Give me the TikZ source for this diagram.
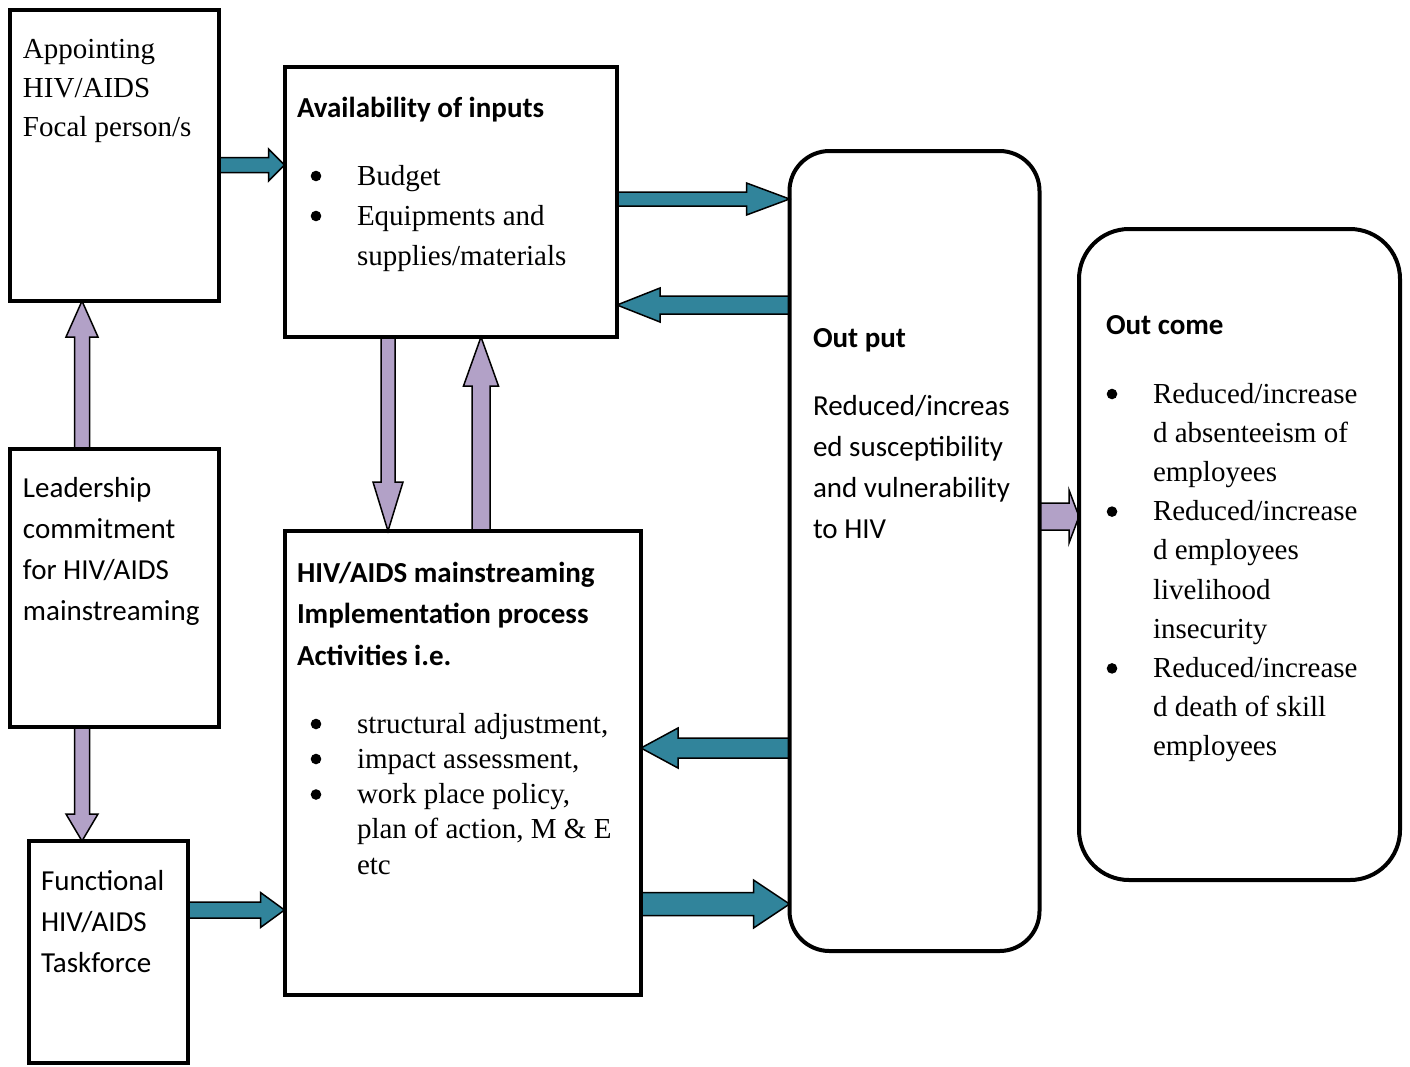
\documentclass[tikz,border=0pt]{standalone}
\usepackage{fontspec}
\setmainfont{Liberation Serif}
\setsansfont{Carlito}
\usetikzlibrary{calc,backgrounds}
\definecolor{tealA}{RGB}{49,132,155}
\definecolor{purpA}{RGB}{178,161,199}
\newcommand\blockarrow[6]{%
  \coordinate (hb) at ($(#3)!#6!(#2)$);
  \draw[#1] ($(#2)!#4!90:(#3)$) -- ($(hb)!#4!90:(#3)$) -- ($(hb)!#5!90:(#3)$) -- (#3)
    -- ($(hb)!#5!-90:(#3)$) -- ($(hb)!#4!-90:(#3)$) -- ($(#2)!#4!-90:(#3)$) -- cycle;}
\newcommand\tblock[3]{\begin{minipage}[t]{#1}\raggedright\fontsize{29}{#2}\selectfont #3\end{minipage}}
\newcommand\indA{\hspace*{60pt}}
\newcommand\indB{\hspace*{47pt}}
\tikzset{
  box/.style={draw=black, line width=4pt, rectangle, inner sep=0pt, outer sep=0pt},
  rbox/.style={box, rounded corners=40pt},
  txt/.style={anchor=base west, inner sep=0pt, outer sep=0pt},
  bulletdot/.style={fill=black},
  tealarrow/.style={fill=tealA, draw=black, line width=1.5pt, line join=miter},
  purparrow/.style={fill=purpA, draw=black, line width=1.5pt, line join=miter}
}
\begin{document}
\begin{tikzpicture}[x=1pt,y=-1pt]
\useasboundingbox (0,0) rectangle (1410,1066);
% boxes
\node[box, minimum width=209pt, minimum height=291pt] (A) at (114.5,155.5) {};
\node[box, minimum width=332.5pt, minimum height=270pt] (B) at (450.75,202) {};
\node[rbox, minimum width=250pt, minimum height=800pt] (C) at (914.5,551) {};
\node[box, rounded corners=50pt, minimum width=321pt, minimum height=651pt] (D) at (1239.5,554.5) {};
\node[box, minimum width=209pt, minimum height=278pt] (E) at (114.5,588) {};
\node[box, minimum width=356.5pt, minimum height=464pt] (F) at (462.75,763) {};
\node[box, minimum width=159pt, minimum height=222pt] (G) at (108.5,952) {};
% texts
\node[txt] (Atext) at (23,58) {\tblock{190pt}{39.3pt}{Appointing\\HIV/AIDS\\Focal person/s}};
\node[txt] (Bhead) at (297,117) {\tblock{310pt}{41pt}{\sffamily\bfseries Availability of inputs}};
\node[txt] (Bbody) at (297,185) {\tblock{315pt}{40pt}{\indA Budget\\\indA Equipments and\\\indA supplies/materials}};
\node[txt] (Chead) at (813,347) {\tblock{225pt}{41pt}{\sffamily\bfseries Out put}};
\node[txt] (Cbody) at (813,415) {\tblock{225pt}{41.3pt}{\sffamily Reduced/increas\\ed susceptibility\\and vulnerability\\to HIV}};
\node[txt] (Dhead) at (1106,334) {\tblock{290pt}{41pt}{\sffamily\bfseries Out come}};
\node[txt] (Dbody) at (1106,403) {\tblock{290pt}{39.2pt}{\indB Reduced/increase\\\indB d absenteeism of\\\indB employees\\\indB Reduced/increase\\\indB d employees\\\indB livelihood\\\indB insecurity\\\indB Reduced/increase\\\indB d death of skill\\\indB employees}};
\node[txt] (Etext) at (23,497) {\tblock{195pt}{41.3pt}{\sffamily Leadership\\commitment\\for HIV/AIDS\\mainstreaming}};
\node[txt] (Fhead) at (297,582) {\tblock{340pt}{41.5pt}{\sffamily\bfseries HIV/AIDS mainstreaming\\Implementation process\\Activities i.e.}};
\node[txt] (Fbody) at (297,733) {\tblock{340pt}{35.25pt}{\indA structural adjustment,\\\indA impact assessment,\\\indA work place policy,\\\indA plan of action, M \& E\\\indA etc}};
\node[txt] (Gtext) at (41,890) {\tblock{140pt}{41pt}{\sffamily Functional\\HIV/AIDS\\Taskforce}};
% bullets
\foreach \bx/\by in {316/176, 316/216, 316/724, 316/759, 316/794.5, 1112/394, 1112/511.6, 1112/668.4}
  \fill[bulletdot] (\bx,\by) circle (5.3pt);
% connectors
\coordinate (ab1) at (A.east |- 0,165);
\coordinate (ab2) at (B.west |- 0,165);
\coordinate (bc1) at (B.east |- 0,199);
\coordinate (bc2) at (C.west |- 0,199);
\coordinate (cb1) at (C.west |- 0,305);
\coordinate (cb2) at (B.east |- 0,305);
\coordinate (bf1) at (B.south -| 388,0);
\coordinate (bf2) at (F.north -| 388,0);
\coordinate (fb1) at (F.north -| 481,0);
\coordinate (fb2) at (B.south -| 481,0);
\coordinate (ea1) at (E.north -| 82,0);
\coordinate (ea2) at (A.south -| 82,0);
\coordinate (eg1) at (E.south -| 82,0);
\coordinate (eg2) at (G.north -| 82,0);
\coordinate (gf1) at (G.east |- 0,910);
\coordinate (gf2) at (F.west |- 0,910);
\coordinate (cf1) at (C.west |- 0,748);
\coordinate (cf2) at (F.east |- 0,748);
\coordinate (fc1) at (F.east |- 0,904);
\coordinate (fc2) at (C.west |- 0,904);
\coordinate (cd1) at (C.east |- 0,516.5);
\coordinate (cd2) at (D.west |- 0,516.5);
\begin{scope}[on background layer]
\fill[white] (0,0) rectangle (1410,1066);
\blockarrow{tealarrow}{ab1}{ab2}{7.5pt}{16pt}{16pt}
\blockarrow{tealarrow}{bc1}{bc2}{7pt}{16pt}{43pt}
\blockarrow{tealarrow}{cb1}{cb2}{9pt}{17pt}{43pt}
\blockarrow{purparrow}{bf1}{bf2}{7pt}{15pt}{49pt}
\blockarrow{purparrow}{fb1}{fb2}{9pt}{17.5pt}{49pt}
\blockarrow{purparrow}{ea1}{ea2}{7.5pt}{16pt}{36pt}
\blockarrow{purparrow}{eg1}{eg2}{7.5pt}{16pt}{27pt}
\blockarrow{tealarrow}{gf1}{gf2}{8pt}{17.5pt}{24pt}
\blockarrow{tealarrow}{cf1}{cf2}{10pt}{20pt}{37pt}
\blockarrow{tealarrow}{fc1}{fc2}{11.5pt}{24pt}{36pt}
\blockarrow{purparrow}{cd1}{cd2}{13.5pt}{26.5pt}{10pt}
\end{scope}
\end{tikzpicture}
\end{document}
